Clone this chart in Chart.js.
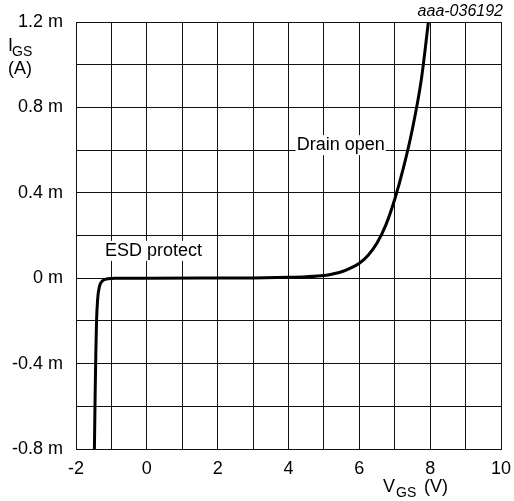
<!DOCTYPE html>
<html>
<head>
<meta charset="utf-8">
<script src="https://cdn.jsdelivr.net/npm/chart.js@4.4.1/dist/chart.umd.min.js"></script>
<style>
  html, body { margin: 0; padding: 0; background: #fff; }
  #wrap { width: 514px; height: 501px; }
</style>
</head>
<body>
<div id="wrap"><canvas id="igs"></canvas></div>
<script>
// V_GS in volts, I_GS in mA (axis shows "m" = milli-amps)
var vgs = [-1.48, -1.46, -1.44, -1.42, -1.39, -1.34, -1.25, -1.1, -0.9, 0, 2, 3, 4, 4.5, 5, 5.25, 5.5, 5.75, 6, 6.25, 6.5, 6.75, 7.0, 7.25, 7.5, 7.75, 7.95];
var igs = [-0.8, -0.55, -0.35, -0.2, -0.1, -0.04, -0.012, -0.003, 0, 0, 0.0005, 0.001, 0.004, 0.007, 0.013, 0.02, 0.03, 0.047, 0.07, 0.108, 0.165, 0.25, 0.37, 0.52, 0.7, 0.93, 1.2];

var xMin = -2, xMax = 10, xStep = 1, xLabelEvery = 2;
var yMin = -0.8, yMax = 1.2, yStep = 0.2, yLabelEvery = 0.4;

var labels = [
    { text: 'ESD protect', x: -1.18, y: 0.128 },
    { text: 'Drain open', x: 4.23, y: 0.623 }
];

var font = '"Liberation Sans", Arial, sans-serif';

var points = vgs.map(function (v, i) { return { x: v, y: igs[i] }; });

function isMultiple(v, step) {
    var r = Math.abs(v / step - Math.round(v / step));
    return r < 1e-6;
}

var extraText = {
    id: 'extraText',
    afterDatasetsDraw: function (chart) {
        var ctx = chart.ctx;
        var xs = chart.scales.x, ys = chart.scales.y;
        ctx.save();
        ctx.textBaseline = 'middle';
        ctx.font = '18px ' + font;
        labels.forEach(function (l) {
            var px = xs.getPixelForValue(l.x), py = ys.getPixelForValue(l.y);
            var w = ctx.measureText(l.text).width;
            ctx.fillStyle = '#fff';
            ctx.fillRect(px - 1, py - 10, w + 2, 20);
            ctx.fillStyle = '#000';
            ctx.textAlign = 'left';
            ctx.fillText(l.text, px, py);
        });

        // y axis title
        ctx.textAlign = 'left';
        ctx.textBaseline = 'alphabetic';
        ctx.font = '18px ' + font;
        ctx.fillText('I', 8, 51);
        ctx.font = '14px ' + font;
        ctx.fillText('GS', 12, 56);
        ctx.font = '18px ' + font;
        ctx.fillText('(A)', 8, 74);

        // x axis title
        ctx.fillText('V', 383, 492);
        ctx.font = '14px ' + font;
        ctx.fillText('GS', 396, 497);
        ctx.font = '18px ' + font;
        ctx.fillText('(V)', 424, 492);

        // figure code
        ctx.font = 'italic 16px ' + font;
        ctx.textAlign = 'right';
        ctx.fillText('aaa-036192', 503, 16);
        ctx.restore();
    }
};

new Chart(document.getElementById('igs'), {
    type: 'scatter',
    data: {
        datasets: [{
            data: points,
            showLine: true,
            borderColor: '#000',
            borderWidth: 3,
            pointRadius: 0,
            cubicInterpolationMode: 'monotone',
            fill: false
        }]
    },
    options: {
        responsive: true,
        maintainAspectRatio: false,
        animation: false,
        layout: { padding: { left: 0, right: 13, top: 22, bottom: 0 } },
        plugins: {
            legend: { display: false },
            tooltip: { enabled: false }
        },
        scales: {
            x: {
                type: 'linear',
                min: xMin,
                max: xMax,
                afterFit: function (s) {
                    s.height = 52;
                    s.paddingLeft = 0;
                    s.paddingRight = 0;
                },
                grid: { color: '#111', lineWidth: 1, drawTicks: false },
                border: { color: '#111', width: 1 },
                ticks: {
                    stepSize: xStep,
                    padding: 9,
                    color: '#000',
                    font: { family: font, size: 18 },
                    maxRotation: 0,
                    autoSkip: false,
                    callback: function (v) { return isMultiple(v, xLabelEvery) ? String(v) : ''; }
                }
            },
            y: {
                type: 'linear',
                min: yMin,
                max: yMax,
                afterFit: function (s) {
                    s.width = 76;
                    s.paddingTop = 0;
                    s.paddingBottom = 0;
                },
                grid: { color: '#111', lineWidth: 1, drawTicks: false },
                border: { color: '#111', width: 1 },
                ticks: {
                    stepSize: yStep,
                    padding: 13,
                    color: '#000',
                    font: { family: font, size: 18 },
                    autoSkip: false,
                    callback: function (v) {
                        if (!isMultiple(v, yLabelEvery)) return '';
                        var r = Math.round(v * 10) / 10;
                        return (r === 0 ? '0' : r.toFixed(1)) + ' m';
                    }
                }
            }
        }
    },
    plugins: [extraText]
});
</script>
</body>
</html>
